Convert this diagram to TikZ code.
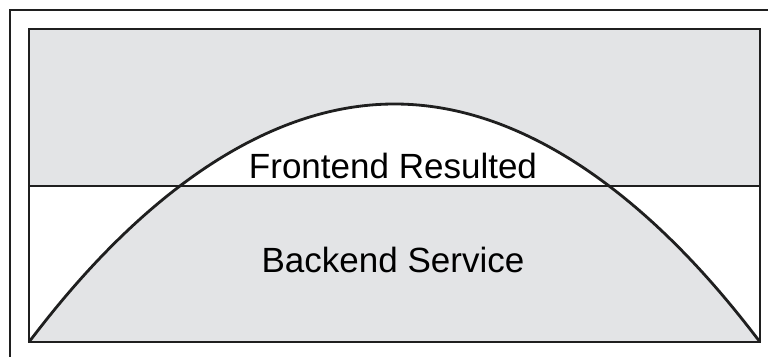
\documentclass[tikz,border=0pt]{standalone}
\usepackage{fontspec}
\setmainfont{Liberation Sans}
\definecolor{bandgrey}{HTML}{E3E4E6}
\tikzset{frameline/.style={line width=2pt, color=black!88}}

\begin{document}
\begin{tikzpicture}[x=0.025cm, y=-0.025cm]
			%%%%% START %%%%%
			
			\clip (0, 0) rectangle (768, 356);
			\draw[frameline] (10, 10) rectangle (800, 400);
			
			\fill[bandgrey, even odd rule] (29, 29) rectangle (760, 186)
				(29, 342) parabola bend (394.5, 104) (760, 342) -- cycle;
			
			\draw[frameline] (29, 186) -- (760, 186);
			\draw[frameline] (29, 342) parabola bend (394.5, 104) (760, 342);
			\draw[frameline] (29, 29) rectangle (760, 342);
			
			\node[font=\fontsize{24.9}{28}\selectfont] (front) at (393, 166) {Frontend Resulted};
			\node[font=\fontsize{24.9}{28}\selectfont] (back) at (393, 260) {Backend Service};
			
			%%%%% END %%%%%
		\end{tikzpicture}
\end{document}
